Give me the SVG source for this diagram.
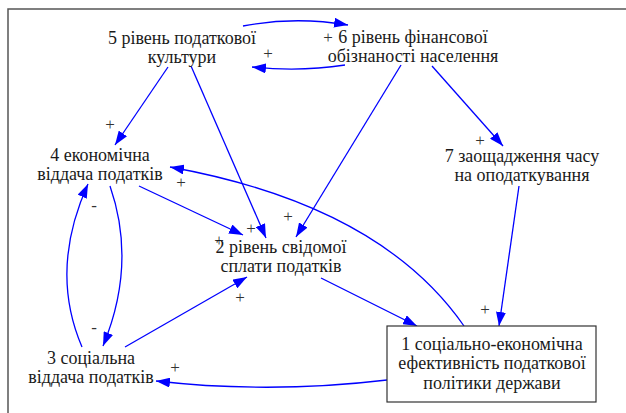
<svg xmlns="http://www.w3.org/2000/svg" width="626" height="413" viewBox="0 0 626 413">
<style>
.t{font-family:"Liberation Serif","Times New Roman","DejaVu Serif",serif;font-size:18px;fill:#1a1a1a;text-anchor:middle}
.s{font-family:"Liberation Serif","Times New Roman","DejaVu Serif",serif;font-size:17px;fill:#333;text-anchor:middle}
.c{fill:none;stroke:#0000ff;stroke-width:1.3;marker-end:url(#ah)}
</style>
<defs>
<marker id="ah" viewBox="0 0 14 10" markerWidth="14" markerHeight="10" refX="14" refY="5" orient="auto" markerUnits="userSpaceOnUse">
<path d="M0,0 L14,5 L0,10 z" fill="#0000ff"/>
</marker>
</defs>
<rect width="626" height="413" fill="#fff"/>
<path d="M8,413 V9 H626" fill="none" stroke="#555" stroke-width="1.5"/>

<g id="connectors">
<path class="c" d="M243,26 Q295,16 348,25"/>
<path class="c" d="M345,65 Q300,72 252,67"/>
<path class="c" d="M168,67 L115,145"/>
<path class="c" d="M191,66 L266,238"/>
<path class="c" d="M401,65 L296,237"/>
<path class="c" d="M432,66 L503,146"/>
<path class="c" d="M139,186 L243,235"/>
<path class="c" d="M464,326 Q380,205 170,167"/>
<path class="c" d="M110,186 Q137,264 103,346"/>
<path class="c" d="M82,347 Q49,270 88,184"/>
<path class="c" d="M125,347 L247,277"/>
<path class="c" d="M321,278 L417,326"/>
<path class="c" d="M519,186 L499,326"/>
<path class="c" d="M387,380 Q270,394 156,381"/>
</g>

<g id="polarities">
<text class="s" x="268" y="59">+</text>
<text class="s" x="110" y="130">+</text>
<text class="s" x="328" y="43">+</text>
<text class="s" x="480" y="146">+</text>
<text class="s" x="181" y="188">+</text>
<text class="s" x="251" y="234">+</text>
<text class="s" x="219" y="246">+</text>
<text class="s" x="288" y="222">+</text>
<text class="s" x="240" y="303">+</text>
<text class="s" x="175" y="373">+</text>
<text class="s" x="395" y="338">+</text>
<text class="s" x="485" y="315">+</text>
<text class="s" x="94" y="211">-</text>
<text class="s" x="94" y="333">-</text>
</g>

<g id="node5">
<text class="t" x="182" y="44">5 рівень податкової</text>
<text class="t" x="182" y="63">культури</text>
</g>
<g id="node6">
<text class="t" x="413" y="43">6 рівень фінансової</text>
<text class="t" x="413" y="62">обізнаності населення</text>
</g>
<g id="node4">
<text class="t" x="100" y="161">4 економічна</text>
<text class="t" x="100" y="180">віддача податків</text>
</g>
<g id="node7">
<text class="t" x="522" y="162">7 заощадження часу</text>
<text class="t" x="522" y="181">на оподаткування</text>
</g>
<g id="node2">
<text class="t" x="281" y="253">2 рівень свідомої</text>
<text class="t" x="281" y="272">сплати податків</text>
</g>
<g id="node3">
<text class="t" x="91" y="364">3 соціальна</text>
<text class="t" x="91" y="383">віддача податків</text>
</g>
<g id="node1">
<rect x="387" y="326" width="209" height="76" fill="#fff" stroke="#333" stroke-width="1.2"/>
<text class="t" x="492" y="350">1 соціально-економічна</text>
<text class="t" x="492" y="369">ефективність податкової</text>
<text class="t" x="492" y="389">політики держави</text>
</g>
</svg>
